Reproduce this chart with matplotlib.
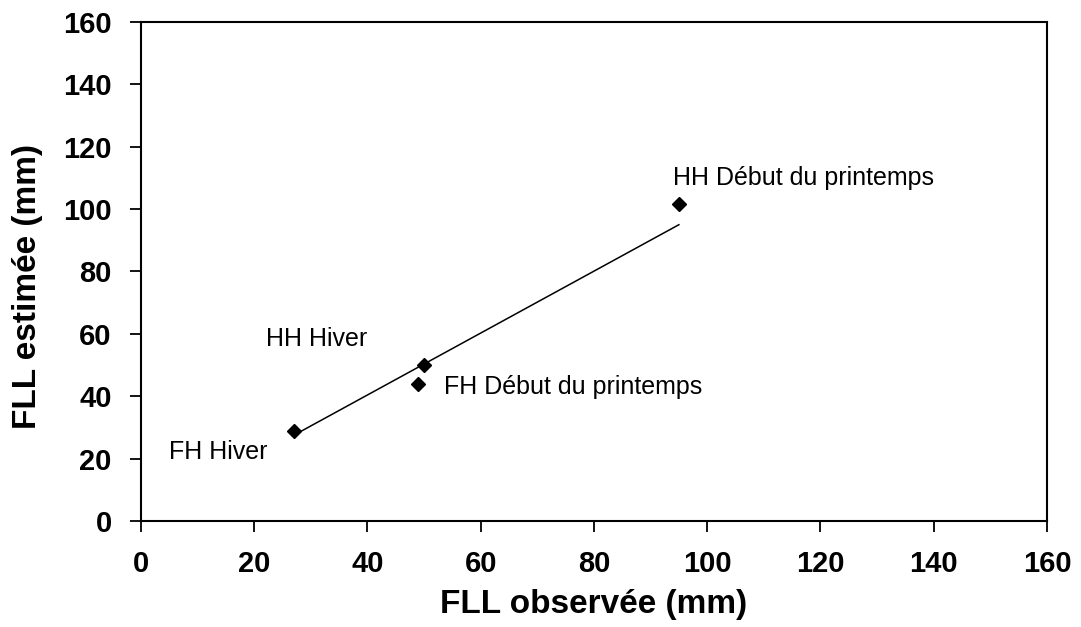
import matplotlib.pyplot as plt

# observed vs estimated FLL (mm)
labels = ['FH Hiver', 'HH Hiver', 'FH Début du printemps', 'HH Début du printemps']
observed = [27, 50, 49, 95]
estimated = [29, 50, 44, 101.5]

# trend line end points
line_x = [27, 95]
line_y = [27.5, 95]

# where each label sits (data coords)
label_x = [5, 22, 53.5, 94]
label_y = [22, 58.5, 43, 110]

ticks = [0, 20, 40, 60, 80, 100, 120, 140, 160]

plt.rcParams['font.family'] = ['Liberation Sans', 'DejaVu Sans']

fig = plt.figure(figsize=(10.81, 6.27), dpi=100)
ax = fig.add_axes([0.1304, 0.1691, 0.8381, 0.7958])

ax.plot(line_x, line_y, color='black', lw=1.1)
ax.plot(observed, estimated, 'D', color='black', ms=7, ls='none')

for t, lx, ly in zip(labels, label_x, label_y):
    ax.text(lx, ly, t, fontsize=18, va='center', ha='left')

ax.set_xlim(0, 160)
ax.set_ylim(0, 160)
ax.set_xticks(ticks)
ax.set_yticks(ticks)
ax.tick_params(direction='out', length=8, width=1.3, labelsize=21, pad=13)
for lab in ax.get_xticklabels() + ax.get_yticklabels():
    lab.set_fontweight('bold')
for s in ax.spines.values():
    s.set_linewidth(1.5)

ax.set_xlabel('FLL observée (mm)', fontsize=24, fontweight='bold', labelpad=8)
ax.set_ylabel('FLL estimée (mm)', fontsize=24, fontweight='bold')
ax.yaxis.set_label_coords(-0.108, 0.47)

fig.savefig('out.png', dpi=100)
